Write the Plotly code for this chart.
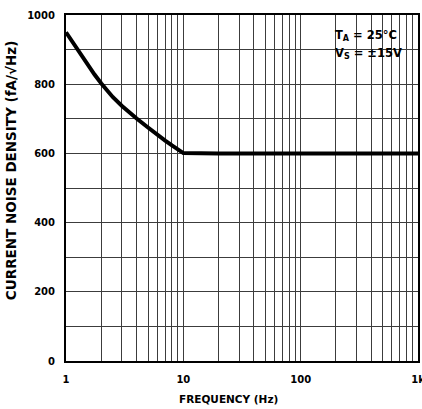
import plotly.graph_objects as go

# Current noise density vs. frequency (1/f corner near 10 Hz)
freq_hz = [1, 1.25, 1.5, 1.75, 2, 2.5, 3, 3.5, 4, 5, 6, 7, 8, 9, 10,
           20, 50, 100, 200, 500, 1000]
noise_fa = [950, 900, 860, 828, 802, 763, 737, 717, 701, 675, 653, 637, 623, 611, 601,
            600, 600, 600, 600, 600, 600]

x_tick_vals = [1, 10, 100, 1000]
x_tick_text = ["1", "10", "100", "1k"]
x_minor_vals = [m * d for d in (1, 10, 100) for m in range(2, 10)]
y_tick_vals = [0, 200, 400, 600, 800, 1000]

FONT = "DejaVu Sans"
GRID = "#3c3c3c"

fig = go.Figure()
fig.add_trace(go.Scatter(
    x=freq_hz, y=noise_fa, mode="lines",
    line=dict(color="black", width=4),
    hoverinfo="skip", showlegend=False,
))

fig.update_layout(
    width=422, height=409,
    margin=dict(l=66, r=4, t=15, b=48),
    paper_bgcolor="white", plot_bgcolor="white",
    font=dict(family=FONT, color="black"),
    showlegend=False,
)

fig.update_xaxes(
    type="log", range=[0, 3],
    tickvals=x_tick_vals, ticktext=x_tick_text,
    tickfont=dict(family=FONT, size=10, color="black", weight="bold"),
    ticks="", ticklabelstandoff=8, ticklabeloverflow="allow",
    showgrid=True, gridcolor=GRID, gridwidth=1,
    minor=dict(tickvals=x_minor_vals, showgrid=True, gridcolor=GRID, gridwidth=1, ticks=""),
    showline=True, linecolor="black", linewidth=2, mirror=True,
    zeroline=False, automargin=False,
)
fig.update_yaxes(
    range=[0, 1000],
    tickvals=y_tick_vals,
    tickfont=dict(family=FONT, size=10, color="black", weight="bold"),
    ticks="", ticklabelstandoff=7,
    showgrid=True, gridcolor=GRID, gridwidth=1,
    minor=dict(dtick=100, showgrid=True, gridcolor=GRID, gridwidth=1, ticks=""),
    showline=True, linecolor="black", linewidth=2, mirror=True,
    zeroline=False, automargin=False,
)

# Axis titles
fig.add_annotation(
    text="CURRENT NOISE DENSITY (fA/√Hz)", textangle=-90,
    xref="paper", yref="paper", x=-0.156, y=0.549,
    xanchor="center", yanchor="middle", showarrow=False,
    font=dict(family=FONT, size=13.5, color="black", weight="bold"),
)
fig.add_annotation(
    text="FREQUENCY (Hz)",
    xref="paper", yref="paper", x=0.4616, y=-0.11,
    xanchor="center", yanchor="middle", showarrow=False,
    font=dict(family=FONT, size=10.5, color="black", weight="bold"),
)

# Test conditions
fig.add_annotation(
    text="T<sub>A</sub> = 25°C",
    xref="paper", yref="paper", x=0.7585, y=0.9408,
    xanchor="left", yanchor="middle", showarrow=False,
    font=dict(family=FONT, size=11.5, color="black", weight="bold"),
)
fig.add_annotation(
    text="V<sub>S</sub> = ±15V",
    xref="paper", yref="paper", x=0.7585, y=0.8887,
    xanchor="left", yanchor="middle", showarrow=False,
    font=dict(family=FONT, size=11.5, color="black", weight="bold"),
)

fig.write_html("out.html")
